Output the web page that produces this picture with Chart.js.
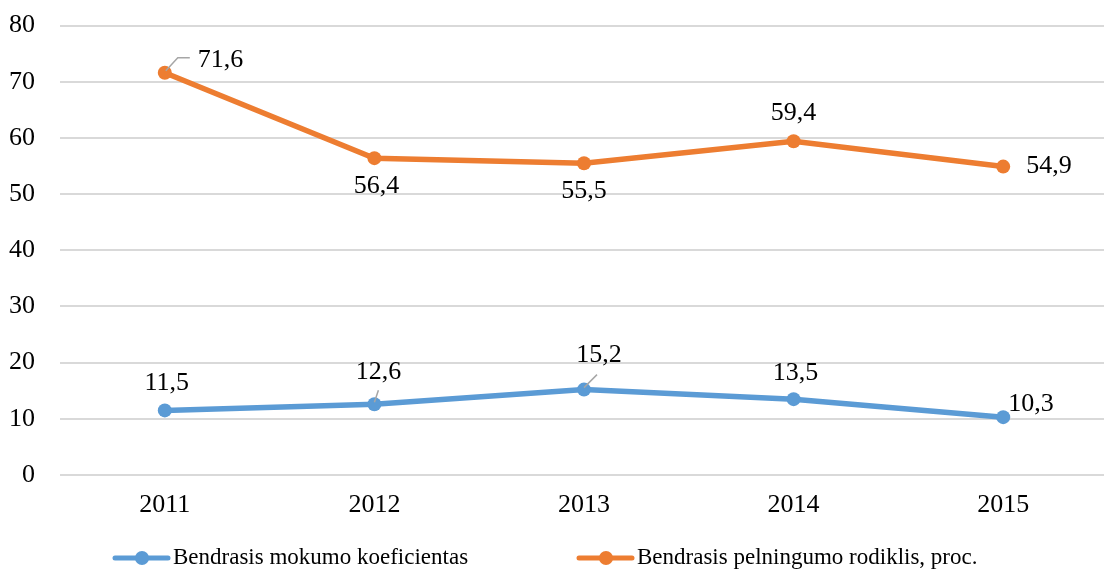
<!DOCTYPE html>
<html><head><meta charset="utf-8">
<script src="https://cdn.jsdelivr.net/npm/chart.js@4/dist/chart.umd.min.js"></script>
<style>html,body{margin:0;padding:0;overflow:hidden;background:#fff}#wrap{width:1115px;height:571px;overflow:hidden}#c{display:block;margin-top:-15px}</style>
</head><body><div id="wrap"><canvas id="c" width="1115" height="586"></canvas></div>
<script>
const categories = ['2011','2012','2013','2014','2015'];
const seriesNames = ['Bendrasis mokumo koeficientas','Bendrasis pelningumo rodiklis, proc.'];
const mokumo = [11.5, 12.6, 15.2, 13.5, 10.3];
const pelningumo = [71.6, 56.4, 55.5, 59.4, 54.9];
const yTicks = [0,10,20,30,40,50,60,70,80];

const FONT = "'Liberation Serif', 'Times New Roman', serif";
const FS = 26, LFS = 23;
const BLUE = '#5B9BD5', ORANGE = '#ED7D31';

// label placement offsets (styling, not data): [dx, dy, align, leader]
const labelPos = [
  [[2,-27,'center'],[4,-32,'center',[[0,-2],[4,-14]]],[15,-34,'center',[[0,-2],[13,-15]]],[2,-26,'center'],[5,-13,'left']],
  [[33,-13,'left',[[1,-2],[13,-15],[25,-15]]],[2,28,'center'],[0,28,'center'],[0,-28,'center'],[23,0,'left']]
];
// legend item left x positions and center y in canvas coords (layout)
const legendX = [113, 577];
const legendY = 573;

const labelPlugin = {
  id:'vlabels',
  afterDatasetsDraw(chart){
    const ctx = chart.ctx;
    chart.data.datasets.forEach((ds,di)=>{
      const meta = chart.getDatasetMeta(di);
      meta.data.forEach((pt,i)=>{
        const p = labelPos[di][i];
        if(p[3]){
          ctx.save(); ctx.strokeStyle='#A6A6A6'; ctx.lineWidth=1.5;
          ctx.beginPath();
          p[3].forEach((q,k)=>{ const fn = k?'lineTo':'moveTo'; ctx[fn](pt.x+q[0], pt.y+q[1]); });
          ctx.stroke(); ctx.restore();
        }
        ctx.save();
        ctx.font = FS+'px '+FONT; ctx.fillStyle='#000';
        ctx.textAlign = p[2]; ctx.textBaseline='middle';
        ctx.fillText(String(ds.data[i]).replace('.',','), pt.x+p[0], pt.y+p[1]);
        ctx.restore();
      });
    });
  },
  afterDraw(chart){
    const ctx = chart.ctx;
    chart.data.datasets.forEach((ds,di)=>{
      const x = legendX[di], y = legendY;
      ctx.save();
      ctx.strokeStyle = ds.borderColor; ctx.lineWidth = 5; ctx.lineCap='round';
      ctx.beginPath(); ctx.moveTo(x+2,y); ctx.lineTo(x+55,y); ctx.stroke();
      ctx.fillStyle = ds.borderColor; ctx.beginPath(); ctx.arc(x+29,y,7,0,Math.PI*2); ctx.fill();
      ctx.font = LFS+'px '+FONT; ctx.fillStyle='#000'; ctx.textAlign='left'; ctx.textBaseline='middle';
      ctx.fillText(ds.label, x+60, y);
      ctx.restore();
    });
  }
};

new Chart(document.getElementById('c'), {
  type:'line',
  data:{
    labels:categories,
    datasets:[
      {label:seriesNames[0], data:mokumo, borderColor:BLUE, backgroundColor:BLUE, borderWidth:5.5, pointRadius:7, pointHoverRadius:7, pointBackgroundColor:BLUE, pointBorderWidth:0, pointStyle:'circle', tension:0},
      {label:seriesNames[1], data:pelningumo, borderColor:ORANGE, backgroundColor:ORANGE, borderWidth:5.5, pointRadius:7, pointHoverRadius:7, pointBackgroundColor:ORANGE, pointBorderWidth:0, pointStyle:'circle', tension:0}
    ]
  },
  options:{
    responsive:false, devicePixelRatio:1, animation:false,
    layout:{padding:{top:10,right:0,bottom:48,left:0}},
    plugins:{ tooltip:{enabled:false}, legend:{display:false} },
    scales:{
      y:{
        min:0, max:80,
        afterFit(s){ s.width = 60; },
        afterBuildTicks(s){ s.ticks = yTicks.map(v=>({value:v})); },
        border:{display:false},
        grid:{color:'#D9D9D9', lineWidth:2, drawTicks:false},
        ticks:{padding:25, autoSkip:false, color:'#000', font:{family:FONT, size:FS}}
      },
      x:{
        offset:true,
        afterFit(s){ s.height = 48; },
        border:{display:false},
        grid:{display:false, drawTicks:false},
        ticks:{padding:15, color:'#000', font:{family:FONT, size:FS}}
      }
    }
  },
  plugins:[labelPlugin]
});
</script></body></html>
